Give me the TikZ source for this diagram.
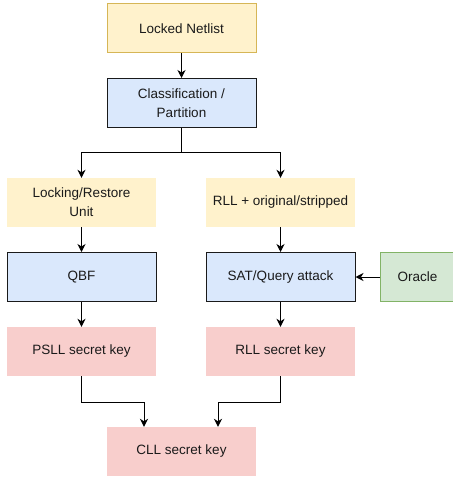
\documentclass[tikz,border=0pt]{standalone}
\usepackage{fontspec}
\setmainfont{Liberation Sans}
\usetikzlibrary{arrows.meta}
\definecolor{ylwfill}{HTML}{FFF2CC}
\definecolor{ylwline}{HTML}{D6B656}
\definecolor{bluefill}{HTML}{DAE8FC}
\definecolor{grnfill}{HTML}{D5E8D4}
\definecolor{grnline}{HTML}{82B366}
\definecolor{redfill}{HTML}{F8CECC}
\definecolor{txt}{HTML}{1A1A1A}
\begin{document}
\begin{tikzpicture}[x=1pt,y=-1pt,
  box/.style={minimum width=149pt,minimum height=49pt,inner sep=0pt,align=center,
    text=txt,font=\fontsize{13.5}{19}\selectfont},
  inbox/.style={box,fill=ylwfill,draw=ylwline,line width=1pt},
  midbox/.style={box,fill=ylwfill},
  procbox/.style={box,fill=bluefill,draw=txt,line width=1pt},
  oraclebox/.style={box,minimum width=74pt,fill=grnfill,draw=grnline,line width=1pt},
  keybox/.style={box,fill=redfill},
  arr/.style={draw=black,line width=1pt,-{Stealth[length=8pt,width=8pt,inset=2.5pt]}}
]
\useasboundingbox (0,0) rectangle (452,478);

\node[inbox]   (net)  at (181.5,28.5) {Locked Netlist};
\node[procbox] (cls)  at (181.5,103)  {Classification /\\Partition};
\node[midbox]  (lock) at (81.5,202.5) {Locking/Restore\\Unit};
\node[midbox]  (rll)  at (280.5,202.5) {RLL + original/stripped};
\node[procbox] (qbf)  at (81.5,277)   {QBF};
\node[procbox] (sat)  at (280.5,277)  {SAT/Query attack};
\node[oraclebox] (ora) at (417.5,277) {Oracle};
\node[keybox]  (psll) at (81.5,351.5) {PSLL secret key};
\node[keybox]  (rllk) at (280.5,351.5) {RLL secret key};
\node[keybox]  (cll)  at (181.5,451.5) {CLL secret key};

\coordinate (split) at (181.5,153);
\coordinate (jl) at (144,402);
\coordinate (jr) at (218,402);

\draw[arr] (net) -- (cls);
\draw[arr] (cls.south) -- (split) -| (lock.north);
\draw[arr] (split) -| (rll.north);
\draw[arr] (lock) -- (qbf);
\draw[arr] (rll) -- (sat);
\draw[arr] (ora) -- (sat);
\draw[arr] (qbf) -- (psll);
\draw[arr] (sat) -- (rllk);
\draw[arr] (psll.south) |- (jl) -- (jl |- cll.north);
\draw[arr] (rllk.south) |- (jr) -- (jr |- cll.north);
\end{tikzpicture}
\end{document}
